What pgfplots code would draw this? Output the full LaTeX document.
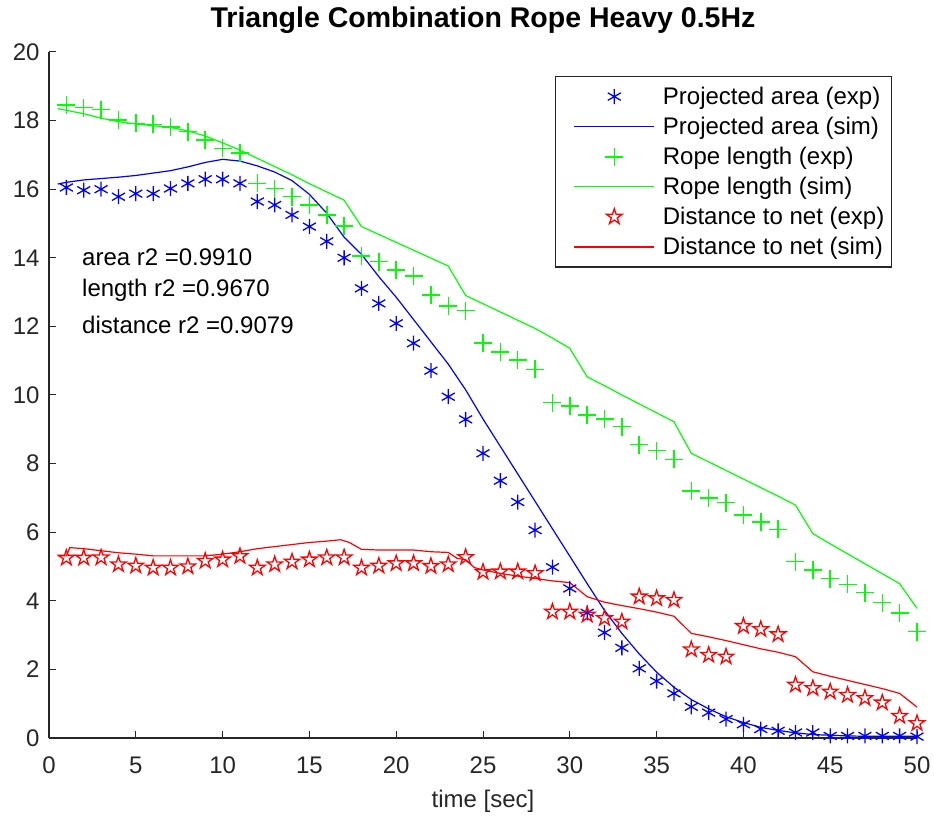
\documentclass[border=0pt]{standalone}
\usepackage{fontspec}
\setmainfont{Liberation Sans}
\usepackage{pgfplots}
\usepackage{pgfplotstable}
\pgfplotsset{compat=1.18}
\usetikzlibrary{plotmarks}
\definecolor{axgray}{RGB}{38,38,38}

\pgfdeclareplotmark{pentagram}{%
  \pgfpathmoveto{\pgfpointpolar{90}{\pgfplotmarksize}}%
  \pgfpathlineto{\pgfpointpolar{126}{0.382\pgfplotmarksize}}%
  \pgfpathlineto{\pgfpointpolar{162}{\pgfplotmarksize}}%
  \pgfpathlineto{\pgfpointpolar{198}{0.382\pgfplotmarksize}}%
  \pgfpathlineto{\pgfpointpolar{234}{\pgfplotmarksize}}%
  \pgfpathlineto{\pgfpointpolar{270}{0.382\pgfplotmarksize}}%
  \pgfpathlineto{\pgfpointpolar{306}{\pgfplotmarksize}}%
  \pgfpathlineto{\pgfpointpolar{342}{0.382\pgfplotmarksize}}%
  \pgfpathlineto{\pgfpointpolar{18}{\pgfplotmarksize}}%
  \pgfpathlineto{\pgfpointpolar{54}{0.382\pgfplotmarksize}}%
  \pgfpathclose
  \pgfusepathqstroke
}
\pgfdeclareplotmark{gplus}{%
  \pgfsetstrokecolor{green}%
  \pgfpathmoveto{\pgfpoint{-\pgfplotmarksize}{0pt}}%
  \pgfpathlineto{\pgfpoint{\pgfplotmarksize}{0pt}}%
  \pgfpathmoveto{\pgfpoint{0pt}{-\pgfplotmarksize}}%
  \pgfpathlineto{\pgfpoint{0pt}{\pgfplotmarksize}}%
  \pgfusepathqstroke
}

\pgfplotstableread{
x y
1 16.05
2 15.97
3 16.0
4 15.78
5 15.87
6 15.87
7 16.02
8 16.17
9 16.29
10 16.29
11 16.17
12 15.64
13 15.54
14 15.25
15 14.91
16 14.48
17 14.0
18 13.11
19 12.67
20 12.09
21 11.51
22 10.71
23 9.95
24 9.29
25 8.3
26 7.5
27 6.88
28 6.06
29 4.98
30 4.36
31 3.65
32 3.07
33 2.63
34 2.03
35 1.66
36 1.3
37 0.91
38 0.74
39 0.55
40 0.4
41 0.26
42 0.21
43 0.16
44 0.16
45 0.06
46 0.06
47 0.06
48 0.06
49 0.06
50 0.04
}\areaexp

\pgfplotstableread{
x y
0.5 16.15
1 16.2
2 16.27
3 16.31
4 16.35
5 16.4
6 16.47
7 16.54
8 16.65
9 16.78
10 16.87
11 16.82
12 16.68
13 16.5
14 16.25
15 15.85
16 15.3
17 14.6
18 14.1
19 13.45
20 12.85
21 12.2
22 11.55
23 10.9
24 10.15
25 9.3
26 8.5
27 7.7
28 6.9
29 6.1
30 5.3
31 4.5
32 3.72
33 3.05
34 2.45
35 1.92
36 1.48
37 1.12
38 0.85
39 0.62
40 0.45
41 0.31
42 0.22
43 0.15
44 0.1
45 0.08
46 0.06
47 0.05
48 0.05
49 0.05
50 0.05
}\areasim

\pgfplotstableread{
x y
1 18.45
2 18.38
3 18.32
4 18.02
5 17.92
6 17.89
7 17.82
8 17.68
9 17.43
10 17.19
11 17.05
12 16.17
13 16.02
14 15.78
15 15.54
16 15.25
17 14.93
18 14.05
19 13.89
20 13.64
21 13.47
22 12.92
23 12.59
24 12.46
25 11.51
26 11.26
27 11.02
28 10.75
29 9.78
30 9.68
31 9.42
32 9.3
33 9.08
34 8.55
35 8.38
36 8.12
37 7.2
38 7.0
39 6.86
40 6.5
41 6.3
42 6.08
43 5.14
44 4.9
45 4.65
46 4.48
47 4.24
48 3.95
49 3.64
50 3.1
}\lenexp

\pgfplotstableread{
x y
0.5 18.35
1 18.3
2 18.2
3 18.07
4 17.97
5 17.9
6 17.85
7 17.8
8 17.7
9 17.55
10 17.35
11 17.14
12 16.9
13 16.66
14 16.42
15 16.16
16 15.92
17 15.68
18 14.91
19 14.68
20 14.45
21 14.22
22 13.99
23 13.76
24 12.9
25 12.66
26 12.42
27 12.18
28 11.94
29 11.66
30 11.36
31 10.53
32 10.27
33 10.0
34 9.74
35 9.48
36 9.22
37 8.3
38 8.05
39 7.8
40 7.55
41 7.3
42 7.05
43 6.79
44 5.96
45 5.66
46 5.37
47 5.08
48 4.79
49 4.5
50 3.78
}\lensim

\pgfplotstableread{
x y
1 5.25
2 5.25
3 5.26
4 5.06
5 5.02
6 4.96
7 4.96
8 5.0
9 5.16
10 5.2
11 5.3
12 4.96
13 5.06
14 5.14
15 5.2
16 5.26
17 5.26
18 4.96
19 5.02
20 5.09
21 5.09
22 5.01
23 5.06
24 5.27
25 4.84
26 4.85
27 4.85
28 4.8
29 3.68
30 3.68
31 3.59
32 3.49
33 3.39
34 4.12
35 4.07
36 4.02
37 2.58
38 2.42
39 2.37
40 3.26
41 3.17
42 3.02
43 1.55
44 1.45
45 1.35
46 1.25
47 1.16
48 1.03
49 0.64
50 0.43
}\distexp

\pgfplotstableread{
x y
0.5 5.31
1.0 5.31
1.2 5.55
2 5.52
3 5.46
4 5.4
5 5.36
6 5.31
7 5.31
8 5.31
9 5.31
10 5.36
11 5.43
12 5.52
13 5.58
14 5.64
15 5.7
16 5.74
16.8 5.78
17.3 5.7
18 5.5
19 5.48
20 5.48
21 5.48
22 5.43
23 5.41
23.5 5.24
24 5.2
24.5 4.97
25 4.9
26 4.8
27 4.72
28 4.65
29 4.58
30 4.53
31 4.12
32 3.96
33 3.86
34 3.77
35 3.67
36 3.55
37 3.05
38 2.95
39 2.84
40 2.72
41 2.6
42 2.5
43 2.37
44 1.93
45 1.8
46 1.68
47 1.56
48 1.44
49 1.3
50 0.9
}\distsim

\begin{document}
\begin{tikzpicture}
\begin{axis}[
  width=868bp, height=686bp, scale only axis,
  xmin=0, xmax=50, ymin=0, ymax=20,
  axis x line*=bottom, axis y line*=left,
  axis line style={axgray, line width=1.3bp, -},
  xtick={0,5,...,50}, ytick={0,2,...,20},
  tick align=inside, major tick length=7bp,
  tick style={axgray, line width=1bp},
  /pgf/number format/assume math mode=true,
  ticklabel style={font=\fontsize{24bp}{28bp}\selectfont\color{axgray}},
  x tick label style={anchor=base, yshift=-35bp},
  y tick label style={anchor=east, xshift=-6bp},
  xlabel={time [sec]},
  xlabel style={at={(axis description cs:0.5,0)}, anchor=base, yshift=-69bp,
    font=\fontsize{24bp}{28bp}\selectfont\color{axgray}},
  title={Triangle Combination Rope Heavy 0.5Hz},
  title style={at={(axis description cs:0.5,1)}, anchor=base, yshift=19bp,
    font=\bfseries\fontsize{28.5bp}{32bp}\selectfont},
  legend image code/.code={\path (-13bp,0bp); \draw[mark repeat=2,mark phase=2,#1] plot coordinates {(0bp,0bp) (40bp,0bp) (80bp,0bp)};},
  legend style={at={(axis description cs:1,1)}, anchor=north east,
    xshift=-25bp, yshift=-24bp, draw=axgray, line width=1.3bp,
    font=\fontsize{24bp}{28bp}\selectfont,
    inner xsep=5bp, inner ysep=8.5bp, row sep=7.2bp, column sep=6bp,
    nodes={inner sep=2bp}},
  legend cell align=left,
  clip=false,
]
\addplot[blue, only marks, mark=asterisk, mark size=7.5bp, line width=1.3bp] table {\areaexp};
\addlegendentry{Projected area (exp)}
\addplot[blue, no markers, line width=1.2bp] table {\areasim};
\addlegendentry{Projected area (sim)}
\addplot[green, only marks, mark=gplus, mark size=9bp, line width=1.5bp, mark options={draw=green, color=green}] table {\lenexp};
\addlegendentry{Rope length (exp)}
\addplot[green, no markers, line width=1.2bp] table {\lensim};
\addlegendentry{Rope length (sim)}
\addplot[red, only marks, mark=pentagram, mark size=8.2bp, line width=1.3bp] table {\distexp};
\addlegendentry{Distance to net (exp)}
\addplot[red, no markers, line width=1.2bp] table {\distsim};
\addlegendentry{Distance to net (sim)}
\node[anchor=west, inner sep=0pt, font=\fontsize{24bp}{28bp}\selectfont] at (axis cs:1.9,14.02) {area r2 =0.9910};
\node[anchor=west, inner sep=0pt, font=\fontsize{24bp}{28bp}\selectfont] at (axis cs:1.9,13.06) {length r2 =0.9670};
\node[anchor=west, inner sep=0pt, font=\fontsize{24bp}{28bp}\selectfont] at (axis cs:1.9,12.05) {distance r2 =0.9079};
\end{axis}
\pgfresetboundingbox
\useasboundingbox ([xshift=-49bp,yshift=-81bp]current axis.south west) rectangle ([xshift=17bp,yshift=52bp]current axis.north east);
\end{tikzpicture}
\end{document}
